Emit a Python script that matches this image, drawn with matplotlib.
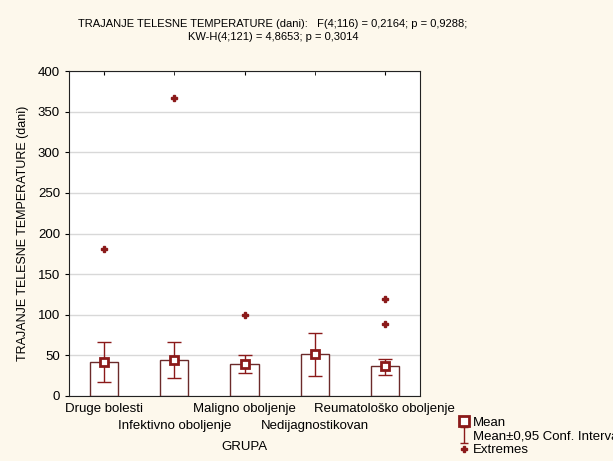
import matplotlib.pyplot as plt
from matplotlib.lines import Line2D
from matplotlib.path import Path

plt.rcParams['font.family'] = ['Liberation Sans', 'DejaVu Sans']

groups = ['Druge bolesti', 'Infektivno oboljenje', 'Maligno oboljenje',
          'Nedijagnostikovan', 'Reumatološko oboljenje']
means = [42, 44, 39, 52, 37]
ci_low = [17, 22, 28, 25, 26]
ci_high = [66, 66, 50, 78, 46]
extreme_x = [0, 1, 2, 4, 4]
extreme_y = [181, 367, 100, 120, 89]

red = '#8b1a1a'
bg = '#fdf8ec'

fig = plt.figure(figsize=(6.13, 4.61), dpi=100, facecolor=bg)
ax = fig.add_axes([69 / 613, 1 - 396 / 461, 351 / 613, 325 / 461])
ax.set_facecolor('white')

x = list(range(len(groups)))
ax.bar(x, means, width=0.4, color='white', edgecolor='#6b2a2a', linewidth=1.0, zorder=2)
lo = [m - l for m, l in zip(means, ci_low)]
hi = [h - m for m, h in zip(means, ci_high)]
ax.errorbar(x, means, yerr=[lo, hi], fmt='none', ecolor=red, elinewidth=1.0,
            capsize=5, capthick=1.0, zorder=3)
ax.plot(x, means, 's', ms=6, mfc='white', mec=red, mew=2, zorder=4)
ax.plot(extreme_x, extreme_y, 'P', ms=5, color=red, zorder=4)

ax.set_xlim(-0.5, 4.5)
ax.set_ylim(0, 400)
ax.set_yticks(range(0, 401, 50))
ax.yaxis.grid(True, color='#d8d8d8', linewidth=1)
ax.set_axisbelow(True)

# alternate the group names on two rows
ax.set_xticks(x[0::2])
ax.set_xticklabels(groups[0::2])
ax.set_xticks(x[1::2], minor=True)
ax.set_xticklabels(groups[1::2], minor=True)
ax.tick_params(axis='x', which='major', direction='in', length=3, top=True,
               pad=5, labelsize=9.5)
ax.tick_params(axis='x', which='minor', direction='in', length=3, top=True,
               pad=17, labelsize=9.5)
ax.tick_params(axis='y', direction='out', length=3, labelsize=9.5)
for s in ax.spines.values():
    s.set_color('#222222')

ax.set_xlabel('GRUPA', fontsize=9.5, labelpad=7)
ax.set_ylabel('TRAJANJE TELESNE TEMPERATURE (dani)', fontsize=9, labelpad=6)
fig.text(273 / 613, 1 - 30.5 / 461,
         'TRAJANJE TELESNE TEMPERATURE (dani):   F(4;116) = 0,2164; p = 0,9288;\n'
         'KW-H(4;121) = 4,8653; p = 0,3014',
         ha='center', va='center', fontsize=8, linespacing=1.35)

ibeam = Path([(-0.5, -1), (0.5, -1), (0, -1), (0, 1), (-0.5, 1), (0.5, 1)],
             [Path.MOVETO, Path.LINETO, Path.MOVETO, Path.LINETO,
              Path.MOVETO, Path.LINETO])
handles = [
    Line2D([], [], ls='none', marker='s', ms=7, mfc='white', mec=red, mew=2),
    Line2D([], [], ls='none', marker=ibeam, ms=11, mfc='none', mec=red, mew=1),
    Line2D([], [], ls='none', marker='P', ms=5, color=red),
]
fig.legend(handles, ['Mean', 'Mean±0,95 Conf. Interval', 'Extremes'],
           loc='upper left', bbox_to_anchor=(452 / 613, 1 - 410 / 461),
           frameon=False, fontsize=9.5, handlelength=0.8, handletextpad=0.3,
           labelspacing=0.12, borderpad=0)

fig.savefig('out.png', dpi=100, facecolor=bg)
